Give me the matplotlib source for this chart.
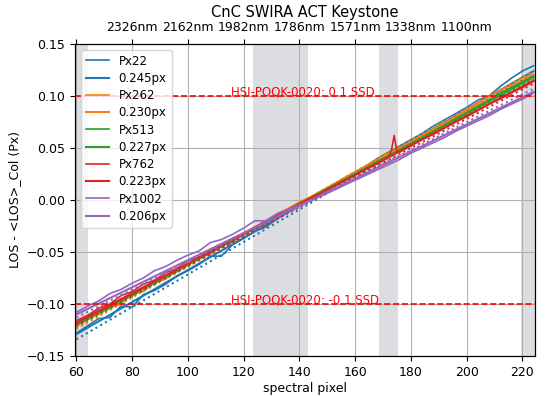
import matplotlib

matplotlib.use("Agg")
import matplotlib.pyplot as plt

# spectral pixel grid for the measured curves
px = [60, 64, 68, 72, 76, 80, 84, 88, 92, 96, 100, 104, 108, 112, 116, 120,
      124, 128, 132, 136, 140, 144, 148, 152, 156, 160, 164, 168, 172, 176,
      180, 184, 188, 192, 196, 200, 204, 208, 212, 216, 220, 224]

blue_meas = [-0.128, -0.121, -0.114, -0.113, -0.102, -0.103, -0.091, -0.087, -0.081, -0.073,
             -0.068, -0.062, -0.054, -0.054, -0.043, -0.037, -0.030, -0.026, -0.018, -0.011,
             -0.005, 0.002, 0.008, 0.014, 0.021, 0.027, 0.033, 0.040, 0.046, 0.052,
             0.058, 0.064, 0.071, 0.077, 0.083, 0.089, 0.096, 0.100, 0.109, 0.117,
             0.124, 0.129]
orange_meas = [-0.119, -0.113, -0.110, -0.104, -0.100, -0.090, -0.088, -0.079, -0.076, -0.067,
               -0.063, -0.055, -0.052, -0.044, -0.041, -0.032, -0.028, -0.020, -0.014, -0.008,
               -0.002, 0.003, 0.009, 0.015, 0.021, 0.027, 0.033, 0.039, 0.045, 0.050,
               0.056, 0.062, 0.068, 0.074, 0.080, 0.087, 0.093, 0.099, 0.106, 0.110,
               0.117, 0.121]
green_meas = [-0.118, -0.113, -0.106, -0.104, -0.095, -0.092, -0.084, -0.080, -0.073, -0.069,
              -0.061, -0.055, -0.051, -0.044, -0.040, -0.032, -0.026, -0.022, -0.015, -0.010,
              -0.003, 0.002, 0.008, 0.014, 0.019, 0.025, 0.031, 0.037, 0.042, 0.048,
              0.054, 0.060, 0.066, 0.072, 0.078, 0.084, 0.090, 0.096, 0.103, 0.108,
              0.114, 0.119]
purple_meas = [-0.108, -0.102, -0.097, -0.090, -0.086, -0.080, -0.075, -0.068, -0.064, -0.058,
               -0.053, -0.049, -0.041, -0.038, -0.033, -0.027, -0.020, -0.020, -0.013, -0.009,
               -0.005, 0.000, 0.004, 0.009, 0.014, 0.019, 0.024, 0.029, 0.034, 0.039,
               0.045, 0.050, 0.055, 0.060, 0.066, 0.071, 0.076, 0.081, 0.087, 0.092,
               0.097, 0.103]
# Px762 has its own grid because of the spike near pixel 174
red_px = [60, 64, 68, 72, 76, 80, 84, 88, 92, 96, 100, 104, 108, 112, 116, 120,
          124, 128, 132, 136, 140, 144, 148, 152, 156, 160, 164, 168, 172, 173,
          174, 175, 176, 180, 184, 188, 192, 196, 200, 204, 208, 212, 216, 220, 224]
red_meas = [-0.116, -0.111, -0.104, -0.100, -0.092, -0.088, -0.081, -0.077, -0.070, -0.066,
            -0.058, -0.055, -0.048, -0.043, -0.037, -0.032, -0.026, -0.020, -0.015, -0.009,
            -0.004, 0.002, 0.007, 0.013, 0.018, 0.024, 0.030, 0.035, 0.041, 0.048,
            0.062, 0.046, 0.046, 0.052, 0.058, 0.063, 0.069, 0.075, 0.080, 0.086,
            0.092, 0.097, 0.103, 0.108, 0.114]

# linear fits (ends at pixel 60 and 224) and the dotted reference lines
fit_px = [60, 224]
names = ["Px22", "Px262", "Px513", "Px762", "Px1002"]
fit_labels = ["0.245px", "0.230px", "0.227px", "0.223px", "0.206px"]
fit_ends = [[-0.129, 0.124], [-0.121, 0.120], [-0.120, 0.118], [-0.118, 0.115], [-0.110, 0.104]]
dot_ends = [[-0.134, 0.122], [-0.124, 0.124], [-0.122, 0.117], [-0.120, 0.112], [-0.113, 0.107]]
colors = ["#1f77b4", "#ff7f0e", "#2ca02c", "#d62728", "#9467bd"]

bad_bands = [(59.5, 64), (123.5, 143), (168.5, 175.5), (219.5, 224.5)]
wl_ticks = [60, 80, 100, 120, 140, 160, 180, 200, 220]
wl_labels = ["", "2326nm", "2162nm", "1982nm", "1786nm", "1571nm", "1338nm", "1100nm", ""]
ssd = 0.1

meas = [(px, blue_meas), (px, orange_meas), (px, green_meas), (red_px, red_meas), (px, purple_meas)]

fig = plt.figure(figsize=(5.5, 3.96), dpi=100)
ax = fig.add_axes([0.1364, 0.101, 0.8363, 0.788])

for lo, hi in bad_bands:
    ax.axvspan(lo, hi, color="#dcdde0", zorder=0, lw=0)

for i in range(5):
    ax.plot(meas[i][0], meas[i][1], color=colors[i], lw=1.2, label=names[i])
    ax.plot(fit_px, fit_ends[i], color=colors[i], lw=1.5, label=fit_labels[i])
    ax.plot(fit_px, dot_ends[i], color=colors[i], lw=1.5, ls=":")

ax.axhline(ssd, color="red", ls="--", lw=1.2, zorder=4)
ax.axhline(-ssd, color="red", ls="--", lw=1.2, zorder=4)
ax.text(115.5, ssd, "HSI-POQK-0020: 0.1 SSD", color="red", fontsize=8.5, va="baseline")
ax.text(115.5, -ssd, "HSI-POQK-0020: -0.1 SSD", color="red", fontsize=8.5, va="baseline")

ax.set_xlim(59.5, 224.5)
ax.set_ylim(-0.15, 0.15)
ax.set_xticks(wl_ticks)
ax.set_yticks([-0.15, -0.10, -0.05, 0.0, 0.05, 0.10, 0.15])
ax.tick_params(labelsize=9)
ax.grid(True, color="#b0b0b0", lw=0.8)
ax.set_axisbelow(True)
ax.set_xlabel("spectral pixel", fontsize=9, labelpad=2)
ax.set_ylabel("LOS - <LOS>_Col (Px)", fontsize=9)
ax.legend(loc="upper left", fontsize=8.5, labelspacing=0.36, handlelength=2.0)

top = ax.twiny()
top.set_xlim(ax.get_xlim())
top.set_xticks(wl_ticks)
top.set_xticklabels(wl_labels)
top.tick_params(labelsize=9)
top.set_title("CnC SWIRA ACT Keystone", fontsize=10.5, pad=3)

fig.savefig("out.png", dpi=100)
